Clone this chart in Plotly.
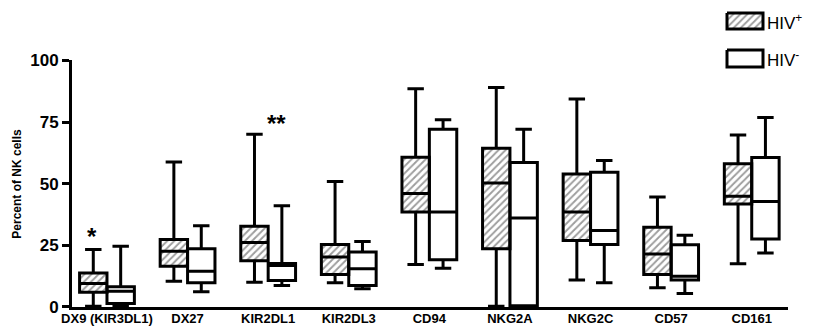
import plotly.graph_objects as go

categories = ["DX9 (KIR3DL1)", "DX27", "KIR2DL1", "KIR2DL3", "CD94", "NKG2A", "NKG2C", "CD57", "CD161"]

pos_min = [0.3, 10.4, 10.0, 9.8, 17.2, 0.3, 10.9, 7.8, 17.5]
pos_q1 = [6.0, 16.5, 18.8, 13.2, 38.5, 23.6, 27.0, 13.2, 41.8]
pos_med = [9.5, 22.6, 26.2, 20.3, 46.0, 50.3, 38.5, 21.5, 44.9]
pos_q3 = [13.8, 27.4, 32.7, 25.3, 60.7, 64.4, 53.9, 32.3, 58.1]
pos_max = [23.3, 58.8, 70.1, 50.9, 88.5, 89.0, 84.3, 44.6, 69.8]

neg_min = [0.3, 6.2, 8.7, 7.4, 15.7, 0.3, 9.8, 5.5, 21.9]
neg_q1 = [1.4, 9.8, 10.7, 8.7, 19.2, 0.5, 25.3, 11.0, 27.6]
neg_med = [6.4, 14.5, 16.8, 15.5, 38.5, 36.1, 31.0, 12.5, 42.8]
neg_q3 = [8.2, 23.6, 17.6, 22.3, 72.1, 58.6, 54.6, 25.2, 60.6]
neg_max = [24.6, 33.0, 41.1, 26.6, 75.9, 72.1, 59.4, 29.1, 76.8]

y_ticks = [0, 25, 50, 75, 100]

BW = 0.34
HALF = BW / 2
idx = list(range(len(categories)))
x_pos = [i - HALF for i in idx]
x_neg = [i + HALF for i in idx]

FONT = "Liberation Sans, Arial, sans-serif"
hatch = dict(shape="/", fgcolor="#3c3c3c", bgcolor="white", size=5, solidity=0.38)

fig = go.Figure()

# hatched fill for HIV+ boxes
fig.add_trace(go.Bar(
    x=x_pos, base=pos_q1, y=[a - b for a, b in zip(pos_q3, pos_q1)],
    width=BW, marker=dict(color="white", pattern=hatch, line=dict(width=0)),
    showlegend=False, hoverinfo="skip"))

box_common = dict(width=BW, whiskerwidth=0.6, fillcolor="rgba(0,0,0,0)",
                  line=dict(color="black", width=3), boxpoints=False, showlegend=False)
fig.add_trace(go.Box(name="HIV+", x=x_pos, q1=pos_q1, median=pos_med, q3=pos_q3,
                     lowerfence=pos_min, upperfence=pos_max, **box_common))
fig.add_trace(go.Box(name="HIV-", x=x_neg, q1=neg_q1, median=neg_med, q3=neg_q3,
                     lowerfence=neg_min, upperfence=neg_max, **box_common))

# legend drawn on a pixel-like helper axis
W, H = 823, 327
ml, mr, mt, mb = 72, 3, 5, 19.5
pw = W - ml - mr
ph = H - mt - mb
x_main_end = (788 - ml) / pw
y_main_top = (307.5 - 60.5) / ph

lx0, lx1 = 700, 820
ly_top, ly_bot = 5, 75
legend_items = [("HIV<sup>+</sup>", True, 13, 29), ("HIV<sup>-</sup>", False, 50, 67)]
for label, hatched, yt, yb in legend_items:
    fig.add_trace(go.Scatter(
        x=[727, 763, 763, 727, 727], y=[yt, yt, yb, yb, yt],
        xaxis="x2", yaxis="y2", mode="lines", fill="toself",
        fillcolor="white",
        fillpattern=hatch if hatched else None,
        line=dict(color="black", width=3), showlegend=False, hoverinfo="skip"))
    fig.add_annotation(x=765, y=(yt + yb) / 2 + 1, xref="x2", yref="y2", text=label,
                       showarrow=False, xanchor="left", yanchor="middle",
                       font=dict(family=FONT, size=17, color="black"))

# significance stars
fig.add_annotation(x=-0.19, y=28.7, text="*", showarrow=False,
                   font=dict(family=FONT, size=24, color="black", weight="bold"))
fig.add_annotation(x=2.10, y=74.6, text="**", showarrow=False,
                   font=dict(family=FONT, size=24, color="black", weight="bold"))

# y title
fig.add_annotation(x=0, y=50, xref="paper", yref="y", xshift=-55, text="Percent of NK cells",
                   textangle=-90, showarrow=False, xanchor="center", yanchor="middle",
                   font=dict(family=FONT, size=12, color="black", weight="bold"))

fig.update_layout(
    width=W, height=H,
    margin=dict(l=ml, r=mr, t=mt, b=mb, pad=0),
    paper_bgcolor="white", plot_bgcolor="white",
    barmode="overlay", boxmode="overlay",
    xaxis=dict(domain=[0, x_main_end], range=[-0.434, 8.45], tickvals=idx, ticktext=categories,
               showline=True, linecolor="black", linewidth=3, ticks="", showgrid=False,
               zeroline=False, automargin=False, ticklabelstandoff=-3,
               tickfont=dict(family=FONT, size=13, color="black", weight="bold")),
    yaxis=dict(domain=[0, y_main_top], range=[0, 100], tickvals=y_ticks,
               showline=True, linecolor="black", linewidth=3, ticks="outside", ticklen=7,
               tickwidth=3, tickcolor="black", showgrid=False, zeroline=False, automargin=False,
               tickfont=dict(family=FONT, size=17, color="black", weight="bold")),
    xaxis2=dict(domain=[(lx0 - ml) / pw, 1], range=[lx0, lx1], visible=False, anchor="y2"),
    yaxis2=dict(domain=[(307.5 - ly_bot) / ph, 1], range=[ly_bot, ly_top], visible=False, anchor="x2"),
)

fig.write_html("out.html", config={"displayModeBar": False},
               post_script="document.body.style.margin='0';document.body.style.overflow='hidden';")
